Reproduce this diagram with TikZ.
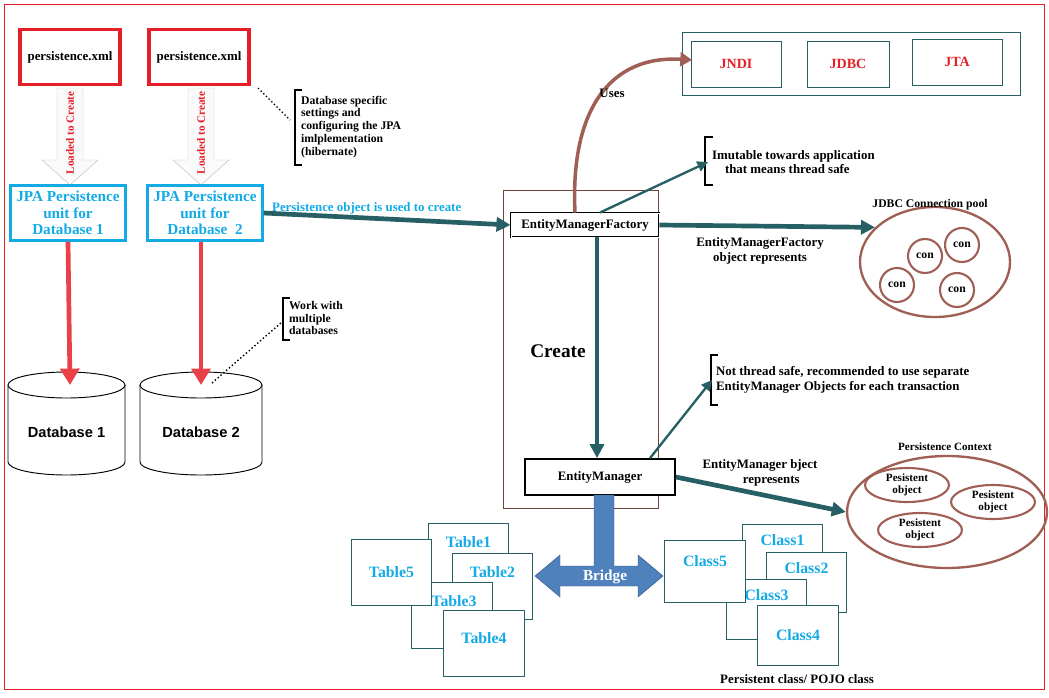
\documentclass[tikz,border=0pt]{standalone}
\usepackage{fontspec}
\setmainfont{Liberation Serif}
\newfontfamily\sansf{Liberation Sans}
\usetikzlibrary{arrows.meta,shapes.geometric}
\definecolor{teal1}{RGB}{38,95,100}
\definecolor{brown1}{RGB}{160,95,85}
\definecolor{sky1}{RGB}{20,170,230}
\definecolor{bridge1}{RGB}{79,129,189}
\definecolor{red1}{RGB}{230,30,40}
\begin{document}
\begin{tikzpicture}[x=0.03cm,y=-0.03cm,
  xmlbox/.style={draw=red1,line width=3pt,minimum width=100*0.03cm,minimum height=55*0.03cm,font=\fontsize{11}{12}\selectfont\bfseries},
  unitbox/.style={draw=sky1,line width=2pt,minimum width=115*0.03cm,minimum height=55*0.03cm,inner sep=1pt,align=center,text=sky1,font=\fontsize{13}{14}\selectfont\bfseries},
  note/.style={align=left,anchor=west,font=\fontsize{10}{11}\selectfont\bfseries},
  lab/.style={font=\fontsize{11}{12.5}\selectfont\bfseries},
  big/.style={-{Triangle[length=12pt,width=12pt]},line width=4pt,teal1},
  thin/.style={-{Triangle[length=9pt,width=9pt]},line width=2pt,teal1},
  card/.style={draw=teal1,fill=white,thick,anchor=north west,text=sky1,font=\fontsize{13.5}{14}\selectfont\bfseries},
  jbox/.style={draw=teal1,thick,minimum width=90*0.03cm,minimum height=46*0.03cm,text=red1,font=\fontsize{12}{13}\selectfont\bfseries},
  br/.style={line width=1.8pt,draw=brown1,text=black}]
\useasboundingbox (0,0) rectangle (1049,697);
\draw[red1,thick] (4,4) rectangle (1044,689);

% persistence.xml
\node[xmlbox] (x1) at (70,57) {persistence.xml};
\node[xmlbox] (x2) at (199,57) {persistence.xml};
\foreach \c in {70,201}{
  \draw[gray!50,fill=gray!4] (\c-13,88) -- (\c+13,88) -- (\c+13,160) -- (\c+28,160) -- (\c,185) -- (\c-28,160) -- (\c-13,160) -- cycle;
  \node[rotate=90,text=red1,font=\fontsize{9.5}{10}\selectfont\bfseries] at (\c,133) {Loaded to Create};
}
\node[unitbox] (u1) at (68,213) {JPA Persistence\\unit for\\Database 1};
\node[unitbox] (u2) at (205,213) {JPA Persistence\\unit for\\Database\ \ 2};

% databases
\foreach \a/\b/\t/\n in {8/125/Database 1/d1,140/262/Database 2/d2}{
  \draw[thick,fill=white] (\a,385) -- (\a,462) arc[start angle=180,end angle=0,x radius={(\b-\a)/2},y radius=13] -- (\b,385);
  \draw[thick,fill=white] ({(\a+\b)/2},385) ellipse[x radius={(\b-\a)/2},y radius=13];
  \node[font=\sansf\fontsize{12.5}{14}\selectfont\bfseries] (\n) at ({(\a+\b)/2},432) {\t};
}
\coordinate (t1) at (70,385); \coordinate (t2) at (201,385);
\draw[-{Triangle[length=14pt,width=16pt]},line width=4pt,red1!85] (u1.south) -- (t1);
\draw[-{Triangle[length=14pt,width=16pt]},line width=4pt,red1!85] ([xshift=-4*0.03cm]u2.south) -- (t2);

% notes
\draw[line width=1.5pt] (302,90) -- (295,90) -- (295,165) -- (302,165);
\node[note] (n1) at (297,127) {Database specific\\settings and\\configuring the JPA\\imlplementation\\(hibernate)};
\draw[dotted,very thick] (258,88) -- (290,120);
\draw[line width=1.5pt] (290,298) -- (283,298) -- (283,340) -- (290,340);
\node[note] (n2) at (285,318) {Work with\\multiple\\databases};
\draw[dotted,very thick] (212,383) -- (282,322);

% central box
\draw[brown1!70!black,thick] (503,190) rectangle (658,508);
\node[draw,double,thick,fill=white,minimum width=148*0.03cm,minimum height=24*0.03cm,lab] (emf) at (585,225) {EntityManagerFactory};
\node[draw,line width=1.5pt,fill=white,minimum width=150*0.03cm,minimum height=36*0.03cm,lab] (em) at (600,477) {EntityManager};
\node[font=\fontsize{16.5}{18}\selectfont\bfseries] (cr) at (558,351) {Create};
\draw[big] (emf.south -| 597,0) -- (em.north -| 597,0);
\draw[big] (u2.east) -- (emf.west);
\node[anchor=west,text=sky1,lab] (pl) at (268,208) {Persistence object is used to create};

% uses
\draw[teal1,thick] (682,32) rectangle (1020,95);
\node[jbox] (jndi) at (736,64) {JNDI};
\node[jbox,minimum width=82*0.03cm] (jdbc) at (848,64) {JDBC};
\node[jbox] (jta) at (957,62) {JTA};
\coordinate (uend) at (692,60);
\draw[-{Triangle[length=10pt,width=12pt]},line width=3pt,brown1] ([xshift=-10*0.03cm]emf.north) .. controls (570,110) and (610,55) .. (uend);
\node[lab] (uses) at (612,93) {Uses};

% immutable note
\draw[line width=1.5pt] (713,137) -- (705,137) -- (705,185) -- (713,185);
\node[note,lab] (n3) at (708,162) {Imutable towards application\\\ \ \ \ that means thread safe};
\draw[thin] ([xshift=15*0.03cm]emf.north) -- (n3.west);

% connection pool
\node[draw=brown1,line width=2pt,ellipse,minimum width=150*0.03cm,minimum height=110*0.03cm] (pool) at (935,262) {};
\node[font=\fontsize{10}{11}\selectfont\bfseries] at (930,205) {JDBC Connection pool};
\foreach \x/\y/\n in {925/256/c1,962/245/c2,897/285/c3,957/290/c4}
  \node[circle,br,minimum size=34*0.03cm,inner sep=0pt,font=\fontsize{10}{11}\selectfont\bfseries] (\n) at (\x,\y) {con};
\draw[big] (emf.east) -- (pool.150);
\node[align=center,lab] (l1) at (760,251) {EntityManagerFactory\\object represents};

% not thread safe
\draw[line width=1.5pt] (718,355) -- (711,355) -- (711,405) -- (718,405);
\node[note,lab] (n4) at (712,380) {Not thread safe, recommended to use separate\\EntityManager Objects for each transaction};
\draw[thin] ([xshift=50*0.03cm]em.north) -- (n4.west);

% persistence context
\node[draw=brown1,line width=2pt,ellipse,minimum width=200*0.03cm,minimum height=112*0.03cm] (ctx) at (947,512) {};
\node[font=\fontsize{9.5}{11}\selectfont\bfseries] at (945,447) {Persistence Context};
\foreach \x/\y/\n in {907/485/p1,993/502/p2,920/530/p3}
  \node[ellipse,br,minimum width=84*0.03cm,minimum height=34*0.03cm,inner sep=0pt,align=center,font=\fontsize{9.5}{10}\selectfont\bfseries] (\n) at (\x,\y) {Pesistent\\object};
\draw[big] (em.east) -- (ctx.west);
\node[align=center,lab] (l2) at (760,473) {EntityManager bject\\\ \ \ \ \ \ \ represents};

% tables and classes
\node[card,minimum width=80*0.03cm,minimum height=66*0.03cm,align=center,text depth=28*0.03cm] (tb1) at (428,523) {Table1};
\node[card,minimum width=80*0.03cm,minimum height=66*0.03cm,text depth=28*0.03cm] (tb2) at (452,553) {Table2};
\node[card,minimum width=81*0.03cm,minimum height=66*0.03cm,text depth=28*0.03cm] (tb3) at (411,582) {\ Table3};
\node[card,minimum width=80*0.03cm,minimum height=66*0.03cm] (tb5) at (351,539) {Table5};
\node[card,minimum width=81*0.03cm,minimum height=66*0.03cm,text depth=10*0.03cm] (tb4) at (443,610) {Table4};
\node[card,minimum width=80*0.03cm,minimum height=60*0.03cm,text depth=28*0.03cm] (cl1) at (742,524) {Class1};
\node[card,minimum width=80*0.03cm,minimum height=60*0.03cm,text depth=28*0.03cm] (cl2) at (766,552) {Class2};
\node[card,minimum width=80*0.03cm,minimum height=60*0.03cm,text depth=28*0.03cm] (cl3) at (726,579) {Class3};
\node[card,minimum width=81*0.03cm,minimum height=62*0.03cm,text depth=20*0.03cm] (cl5) at (664,540) {Class5};
\node[card,minimum width=81*0.03cm,minimum height=60*0.03cm] (cl4) at (757,605) {Class4};
\node[lab] (pojo) at (797,679) {Persistent class/ POJO class};

% bridge
\fill[bridge1,draw=bridge1!70!black] (594,495) -- (614,495) -- (614,566) -- (638,566) -- (638,555) -- (663,576) -- (638,597) -- (638,586) -- (560,586) -- (560,597) -- (535,576) -- (560,555) -- (560,566) -- (594,566) -- cycle;
\node[text=white,font=\fontsize{13}{14}\selectfont\bfseries] (brg) at (605,577) {Bridge};
\end{tikzpicture}
\end{document}
